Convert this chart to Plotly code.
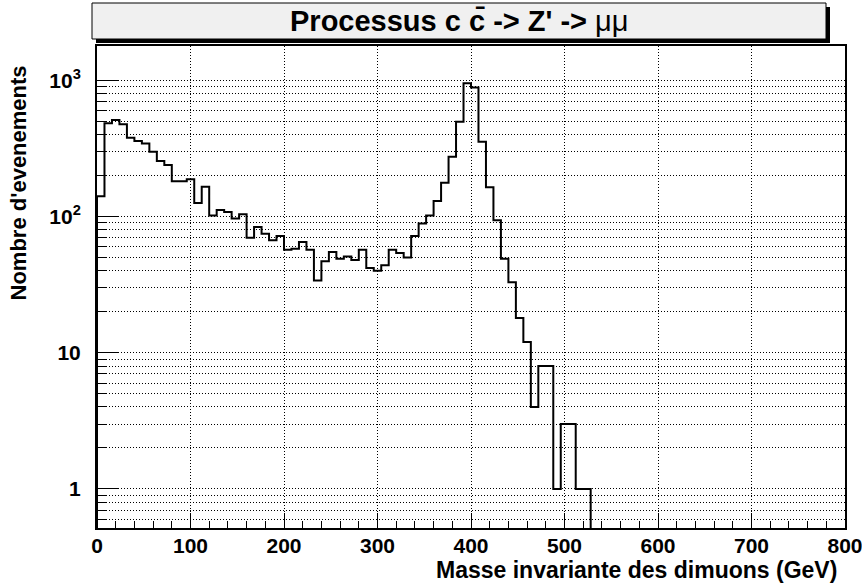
import numpy as np
import plotly.graph_objects as go

# 100 bins of 8 GeV between 0 and 800 GeV, only the non-empty part listed
bin_width = 8
counts = [141, 484, 512, 476, 380, 359, 345, 300, 256, 239,
          182, 182, 188, 126, 166, 102, 112, 108, 97, 104,
          70, 84, 75, 67, 72, 57, 58, 65, 57, 34,
          47, 55, 49, 51, 48, 57, 42, 40, 44, 57,
          54, 50, 72, 89, 102, 130, 177, 275, 497, 952,
          889, 355, 164, 94, 49, 33, 18, 12, 4, 8,
          8, 1, 3, 3, 1, 1]

x_major = [0, 100, 200, 300, 400, 500, 600, 700, 800]
y_major = [1, 10, 100, 1000]
y_major_text = ["1", "10", "10<sup>2</sup>", "10<sup>3</sup>"]

title_text = "<b>Processus c c\u0304 -> Z' -></b> \u03bc\u03bc"
x_title = "Masse invariante des dimuons (GeV)"
y_title = "Nombre d'evenements"

y_lo, y_hi = 0.517, 1790

edges = [i * bin_width for i in range(len(counts) + 1)]
step_x = [edges[0]] + edges[:-1] + [edges[-1]]
step_y = [0.3] + counts + [0.3]

y_minor = [m * 10 ** k for k in range(-1, 4) for m in range(2, 10)
           if y_lo < m * 10 ** k < y_hi]

fig = go.Figure()
fig.add_trace(go.Scatter(
    x=step_x, y=step_y,
    mode="lines",
    line=dict(color="black", width=2, shape="hv"),
    hoverinfo="skip",
))

FAM = "Liberation Sans, Arial, sans-serif"
tick_font = dict(size=21, family=FAM, color="black", weight="bold")

fig.update_layout(
    width=862, height=585, autosize=False,
    margin=dict(l=97, r=17, t=46, b=57),
    paper_bgcolor="white", plot_bgcolor="white",
    showlegend=False,
    font=dict(family=FAM, color="black"),
    xaxis=dict(
        range=[0, 800], automargin=False,
        tickmode="array", tickvals=x_major,
        ticks="inside", ticklen=15, tickwidth=1, tickcolor="black",
        ticklabelstandoff=-2, ticklabeloverflow="allow",
        showline=True, linecolor="black", linewidth=2, mirror=True,
        showgrid=True, gridcolor="black", gridwidth=1, griddash="1px,2px",
        tickfont=tick_font,
        minor=dict(dtick=20, ticks="inside", ticklen=7, tickcolor="black", showgrid=False),
        zeroline=False,
    ),
    yaxis=dict(
        type="log", automargin=False,
        range=[np.log10(y_lo), np.log10(y_hi)],
        tickmode="array", tickvals=y_major, ticktext=y_major_text,
        ticks="inside", ticklen=22, tickwidth=1, tickcolor="black",
        ticklabelstandoff=10, ticklabeloverflow="allow",
        showline=True, linecolor="black", linewidth=2, mirror=True,
        showgrid=True, gridcolor="black", gridwidth=1, griddash="1px,2px",
        tickfont=tick_font,
        minor=dict(tickmode="array", tickvals=y_minor, ticks="inside", ticklen=10,
                   tickcolor="black", showgrid=True, gridcolor="black",
                   gridwidth=1, griddash="1px,2px"),
        zeroline=False,
    ),
)

# title box with shadow, as ROOT draws it
pw, ph = 862 - 97 - 17, 585 - 46 - 57
def px_x(p):
    return (p - 97) / pw
def px_y(p):
    return 1 + (46 - p) / ph

fig.add_shape(type="rect", xref="paper", yref="paper",
              x0=px_x(96), x1=px_x(830), y0=px_y(43), y1=px_y(7),
              fillcolor="black", line=dict(width=0))
fig.add_shape(type="rect", xref="paper", yref="paper",
              x0=px_x(92), x1=px_x(826), y0=px_y(39), y1=px_y(3),
              fillcolor="#f0f0f0", line=dict(color="black", width=1))
fig.add_annotation(text=title_text, xref="paper", yref="paper",
                   x=px_x(459), y=px_y(21), showarrow=False,
                   xanchor="center", yanchor="middle",
                   font=dict(size=29, family=FAM, color="black"))

fig.add_annotation(text="<b>" + x_title + "</b>", xref="paper", yref="paper",
                   x=px_x(839), y=px_y(570), showarrow=False,
                   xanchor="right", yanchor="middle",
                   font=dict(size=23, family=FAM, color="black"))
fig.add_annotation(text="<b>" + y_title + "</b>", xref="paper", yref="paper",
                   x=px_x(18), y=px_y(64), showarrow=False, textangle=-90,
                   xanchor="center", yanchor="top",
                   font=dict(size=22, family=FAM, color="black"))

# drop the default page margin so the figure sits at the window corner
fig.write_html("out.html", config={"displayModeBar": False},
               post_script="document.body.style.margin='0px';")
